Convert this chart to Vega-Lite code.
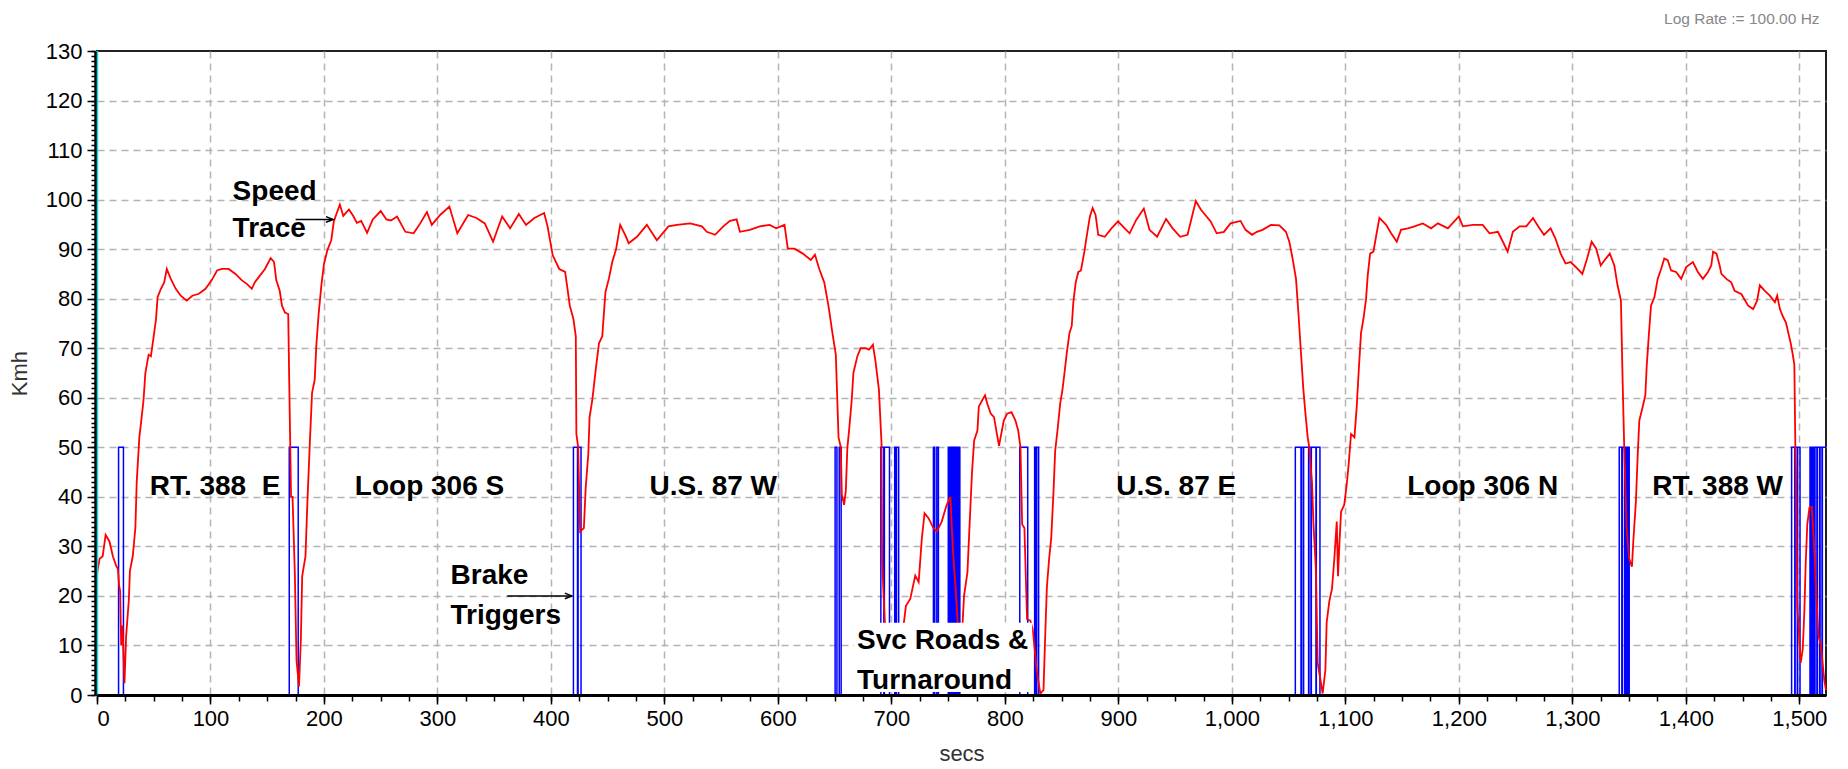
{
  "$schema": "https://vega.github.io/schema/vega-lite/v6.json",
  "width": 1729,
  "height": 644,
  "autosize": {"type": "none"},
  "padding": {"left": 97, "top": 51, "right": 22, "bottom": 74},
  "background": "white",
  "title": {"text": "Log Rate := 100.00 Hz", "anchor": "end", "color": "#888888", "fontSize": 15.5, "fontWeight": "normal", "font": "Liberation Sans", "offset": 13, "dx": -10},
  "datasets": {
    "speed": [
      {"t":0,"kmh":24.5},{"t":2.3,"kmh":27.5},{"t":5,"kmh":28},{"t":7.6,"kmh":32.3},{"t":11,"kmh":31},{"t":14,"kmh":28},{"t":17,"kmh":26},{"t":18.4,"kmh":25.5},{"t":19.5,"kmh":22},{"t":20.4,"kmh":21},{"t":21.3,"kmh":10},{"t":22.5,"kmh":14},{"t":24.2,"kmh":2.4},{"t":25.7,"kmh":12},{"t":28,"kmh":19},{"t":29,"kmh":25},{"t":31.5,"kmh":28},{"t":33.8,"kmh":33.7},{"t":35,"kmh":43},{"t":37.3,"kmh":52},{"t":38.8,"kmh":55},{"t":41,"kmh":59.5},{"t":42.6,"kmh":65},{"t":45.5,"kmh":68.7},{"t":47.5,"kmh":68.4},{"t":49.6,"kmh":71.8},{"t":52,"kmh":75.9},{"t":53.4,"kmh":80.3},{"t":56.3,"kmh":82},{"t":59.2,"kmh":83.3},{"t":61.5,"kmh":86},{"t":65,"kmh":84},{"t":69.4,"kmh":82},{"t":73.8,"kmh":80.6},{"t":79,"kmh":79.6},{"t":84,"kmh":80.6},{"t":89.8,"kmh":81},{"t":95.6,"kmh":82},{"t":101,"kmh":83.7},{"t":105.8,"kmh":85.7},{"t":110,"kmh":86},{"t":116,"kmh":86},{"t":122,"kmh":85},{"t":127.7,"kmh":83.7},{"t":132,"kmh":83},{"t":136.4,"kmh":82},{"t":139,"kmh":83.3},{"t":143.7,"kmh":84.7},{"t":148,"kmh":86},{"t":153,"kmh":88.2},{"t":156,"kmh":87.4},{"t":158,"kmh":83.7},{"t":161,"kmh":81.6},{"t":163,"kmh":78.6},{"t":165.6,"kmh":77.2},{"t":168.5,"kmh":76.9},{"t":169.4,"kmh":63},{"t":171,"kmh":40},{"t":172.3,"kmh":40},{"t":174.3,"kmh":24.8},{"t":175.8,"kmh":7},{"t":178,"kmh":1.7},{"t":179.6,"kmh":11},{"t":180.8,"kmh":24},{"t":183.7,"kmh":28},{"t":185.4,"kmh":39},{"t":187.5,"kmh":50.7},{"t":189.5,"kmh":61},{"t":191.8,"kmh":63.6},{"t":193.3,"kmh":70.7},{"t":195.3,"kmh":76.9},{"t":197.7,"kmh":82.7},{"t":200,"kmh":87},{"t":203,"kmh":89.8},{"t":206.4,"kmh":91.8},{"t":208.7,"kmh":95.6},{"t":210.8,"kmh":97},{"t":214,"kmh":99},{"t":217,"kmh":96.7},{"t":222,"kmh":98},{"t":225.8,"kmh":96.7},{"t":229,"kmh":95.3},{"t":232.8,"kmh":95.7},{"t":238,"kmh":93.3},{"t":243,"kmh":96},{"t":250,"kmh":97.7},{"t":255,"kmh":96},{"t":259,"kmh":95.8},{"t":264.4,"kmh":96.6},{"t":271.7,"kmh":93.5},{"t":279,"kmh":93.2},{"t":284.8,"kmh":95.2},{"t":290.7,"kmh":97.5},{"t":295,"kmh":94.9},{"t":302.3,"kmh":96.9},{"t":310.5,"kmh":98.6},{"t":317.5,"kmh":93.2},{"t":327,"kmh":96.9},{"t":334.4,"kmh":96.3},{"t":341.7,"kmh":95.2},{"t":349,"kmh":91.5},{"t":357,"kmh":96.6},{"t":364,"kmh":94.2},{"t":371.7,"kmh":97.1},{"t":378,"kmh":94.9},{"t":385.4,"kmh":96.3},{"t":394,"kmh":97.3},{"t":397,"kmh":94.6},{"t":401.5,"kmh":88.8},{"t":407.3,"kmh":86},{"t":412.5,"kmh":85.4},{"t":416.6,"kmh":78.6},{"t":419.8,"kmh":75.9},{"t":421.9,"kmh":72.4},{"t":422.4,"kmh":52.7},{"t":424,"kmh":50},{"t":425.7,"kmh":33},{"t":429,"kmh":33.7},{"t":430.6,"kmh":41.8},{"t":432.9,"kmh":48.6},{"t":434,"kmh":56},{"t":436.4,"kmh":59.5},{"t":439.4,"kmh":65.6},{"t":442.3,"kmh":71},{"t":445.2,"kmh":72.4},{"t":448,"kmh":81.3},{"t":451,"kmh":84},{"t":454,"kmh":87.4},{"t":457.4,"kmh":90},{"t":461,"kmh":94.9},{"t":465.6,"kmh":92.8},{"t":468.5,"kmh":91.2},{"t":475.8,"kmh":92.5},{"t":484.5,"kmh":94.9},{"t":493.3,"kmh":91.8},{"t":503.5,"kmh":94.6},{"t":511,"kmh":94.9},{"t":522.7,"kmh":95.2},{"t":533,"kmh":94.6},{"t":537.3,"kmh":93.5},{"t":544.6,"kmh":92.9},{"t":551.9,"kmh":94.6},{"t":557.7,"kmh":95.7},{"t":563.6,"kmh":96},{"t":566.5,"kmh":93.5},{"t":575.2,"kmh":93.9},{"t":584,"kmh":94.6},{"t":592.7,"kmh":94.9},{"t":598.5,"kmh":94.2},{"t":605.8,"kmh":94.9},{"t":608.7,"kmh":90.1},{"t":614.6,"kmh":90.1},{"t":621.9,"kmh":89.1},{"t":629,"kmh":87.8},{"t":632.6,"kmh":88.9},{"t":636.4,"kmh":86},{"t":640.8,"kmh":83.3},{"t":644.5,"kmh":78.6},{"t":648,"kmh":73.1},{"t":651,"kmh":68.7},{"t":653.4,"kmh":52},{"t":655.4,"kmh":50},{"t":656.3,"kmh":40.5},{"t":658.3,"kmh":38.4},{"t":659.8,"kmh":41.2},{"t":661.2,"kmh":50},{"t":662.7,"kmh":53.4},{"t":665,"kmh":59.5},{"t":666.5,"kmh":65},{"t":670,"kmh":68.4},{"t":672.9,"kmh":70},{"t":677.3,"kmh":70},{"t":680.2,"kmh":69.7},{"t":683.7,"kmh":70.7},{"t":686,"kmh":67.3},{"t":689,"kmh":61.6},{"t":691.3,"kmh":50.7},{"t":691.8,"kmh":26.9},{"t":694.2,"kmh":14.6},{"t":697,"kmh":8},{"t":703,"kmh":5},{"t":708,"kmh":9},{"t":712.8,"kmh":18},{"t":716.6,"kmh":19.4},{"t":721,"kmh":24.1},{"t":724,"kmh":22.8},{"t":726.8,"kmh":31.6},{"t":729.2,"kmh":36.7},{"t":732.7,"kmh":35.7},{"t":737,"kmh":33.7},{"t":740,"kmh":33},{"t":744.3,"kmh":35},{"t":748.7,"kmh":38.4},{"t":752,"kmh":40},{"t":754,"kmh":30},{"t":757,"kmh":20},{"t":759,"kmh":12},{"t":761,"kmh":13},{"t":762.7,"kmh":14.6},{"t":764,"kmh":20},{"t":767,"kmh":24.8},{"t":769,"kmh":35},{"t":771,"kmh":44.9},{"t":772.9,"kmh":51.4},{"t":775.8,"kmh":53.4},{"t":777,"kmh":58.2},{"t":780,"kmh":59.5},{"t":782.5,"kmh":60.5},{"t":784.5,"kmh":58.8},{"t":787.5,"kmh":56.8},{"t":790.4,"kmh":56.1},{"t":792.4,"kmh":53.4},{"t":794.8,"kmh":50.3},{"t":796.2,"kmh":52},{"t":799,"kmh":55.4},{"t":802,"kmh":56.8},{"t":805.8,"kmh":57.1},{"t":809.3,"kmh":55.4},{"t":811.7,"kmh":53.4},{"t":813.7,"kmh":50},{"t":815.2,"kmh":34.4},{"t":817.2,"kmh":33.7},{"t":819.5,"kmh":15.3},{"t":822.4,"kmh":15},{"t":824.5,"kmh":13.3},{"t":828,"kmh":5},{"t":831.2,"kmh":0.3},{"t":834,"kmh":1},{"t":835.6,"kmh":12.6},{"t":837,"kmh":21.8},{"t":839,"kmh":27.6},{"t":840.8,"kmh":31.6},{"t":842.9,"kmh":41.5},{"t":844.3,"kmh":49.3},{"t":846.6,"kmh":54},{"t":848.7,"kmh":58.8},{"t":850.7,"kmh":61.6},{"t":852.5,"kmh":65},{"t":854.5,"kmh":69},{"t":856.9,"kmh":73.1},{"t":858.9,"kmh":74.5},{"t":860.3,"kmh":79.3},{"t":862.4,"kmh":83.3},{"t":864.7,"kmh":85.4},{"t":867,"kmh":85.7},{"t":870,"kmh":89.5},{"t":872,"kmh":92.5},{"t":874.9,"kmh":96.6},{"t":877.3,"kmh":98.3},{"t":879.9,"kmh":96.9},{"t":882.2,"kmh":92.9},{"t":888,"kmh":92.5},{"t":893.9,"kmh":94.2},{"t":899.7,"kmh":95.6},{"t":905.5,"kmh":94.2},{"t":909.9,"kmh":93.2},{"t":915.7,"kmh":95.9},{"t":922.4,"kmh":98.2},{"t":927.4,"kmh":93.9},{"t":934.1,"kmh":92.5},{"t":942,"kmh":96.1},{"t":947.8,"kmh":94.2},{"t":954.5,"kmh":92.5},{"t":960.9,"kmh":92.9},{"t":963.8,"kmh":95.6},{"t":968.2,"kmh":99.7},{"t":972.6,"kmh":98},{"t":981.3,"kmh":95.6},{"t":986.6,"kmh":93.2},{"t":993,"kmh":93.5},{"t":998.8,"kmh":95.2},{"t":1007.6,"kmh":95.7},{"t":1012,"kmh":93.9},{"t":1017.8,"kmh":92.9},{"t":1022,"kmh":93.5},{"t":1027,"kmh":93.9},{"t":1034.4,"kmh":94.9},{"t":1041.8,"kmh":94.8},{"t":1047.6,"kmh":93.5},{"t":1050.6,"kmh":91.5},{"t":1053.5,"kmh":88.1},{"t":1056.5,"kmh":84},{"t":1058.8,"kmh":76.5},{"t":1060.9,"kmh":69},{"t":1062.9,"kmh":61.9},{"t":1064.7,"kmh":57.1},{"t":1066.8,"kmh":52},{"t":1068.2,"kmh":50},{"t":1070.6,"kmh":42.9},{"t":1071.8,"kmh":35},{"t":1074,"kmh":25.5},{"t":1075.6,"kmh":6.5},{"t":1080,"kmh":0.3},{"t":1082.4,"kmh":5.1},{"t":1083.5,"kmh":14.6},{"t":1085.9,"kmh":19},{"t":1088.2,"kmh":21.4},{"t":1090.3,"kmh":27.6},{"t":1092.4,"kmh":35},{"t":1093.5,"kmh":24},{"t":1094.7,"kmh":30.3},{"t":1096.2,"kmh":37},{"t":1099,"kmh":38.4},{"t":1101.2,"kmh":42.5},{"t":1102.9,"kmh":46.6},{"t":1105,"kmh":52.7},{"t":1108,"kmh":52},{"t":1110,"kmh":58.2},{"t":1111.8,"kmh":65.6},{"t":1113.8,"kmh":73.1},{"t":1115.9,"kmh":75.9},{"t":1118.2,"kmh":79.9},{"t":1119.7,"kmh":84.7},{"t":1121.8,"kmh":89.1},{"t":1124.7,"kmh":89.5},{"t":1127,"kmh":92.5},{"t":1130,"kmh":96.3},{"t":1133,"kmh":95.6},{"t":1135.9,"kmh":94.9},{"t":1140.3,"kmh":93.2},{"t":1145.3,"kmh":91.5},{"t":1149,"kmh":93.9},{"t":1155,"kmh":94.2},{"t":1160.9,"kmh":94.6},{"t":1168.2,"kmh":95.2},{"t":1175.6,"kmh":94.2},{"t":1181.5,"kmh":95.2},{"t":1190.3,"kmh":94.2},{"t":1200,"kmh":96.6},{"t":1203.5,"kmh":94.6},{"t":1212.4,"kmh":94.9},{"t":1221,"kmh":94.9},{"t":1227,"kmh":93.2},{"t":1234.4,"kmh":93.5},{"t":1238.8,"kmh":91.5},{"t":1243,"kmh":89.5},{"t":1247.6,"kmh":93.5},{"t":1253.5,"kmh":94.6},{"t":1259.4,"kmh":94.6},{"t":1265.3,"kmh":96.3},{"t":1271,"kmh":94.2},{"t":1275,"kmh":92.9},{"t":1280.8,"kmh":94.2},{"t":1285,"kmh":92.2},{"t":1289.7,"kmh":89.1},{"t":1294,"kmh":87.1},{"t":1298.5,"kmh":87.4},{"t":1303,"kmh":86.4},{"t":1308.8,"kmh":85},{"t":1313,"kmh":88.1},{"t":1317,"kmh":91.5},{"t":1321,"kmh":90.1},{"t":1325,"kmh":86.7},{"t":1329.5,"kmh":88.1},{"t":1333,"kmh":89.1},{"t":1337,"kmh":86.7},{"t":1339.8,"kmh":82.7},{"t":1342.8,"kmh":79.6},{"t":1344.2,"kmh":64.3},{"t":1345.7,"kmh":50},{"t":1347.8,"kmh":33.7},{"t":1350,"kmh":27.6},{"t":1352.5,"kmh":25.9},{"t":1353.7,"kmh":31},{"t":1356,"kmh":39.1},{"t":1357.5,"kmh":48},{"t":1359,"kmh":55.4},{"t":1362,"kmh":58.2},{"t":1364.3,"kmh":60.5},{"t":1365.5,"kmh":66.3},{"t":1367.3,"kmh":72.4},{"t":1369.3,"kmh":78.6},{"t":1372.3,"kmh":80.3},{"t":1375.2,"kmh":84},{"t":1378.2,"kmh":86},{"t":1381,"kmh":88.1},{"t":1384,"kmh":87.8},{"t":1387,"kmh":85.7},{"t":1391.4,"kmh":85.4},{"t":1395.9,"kmh":84},{"t":1400.3,"kmh":86.4},{"t":1406.2,"kmh":87.4},{"t":1410.6,"kmh":85.4},{"t":1415,"kmh":84},{"t":1419.5,"kmh":85.4},{"t":1422.4,"kmh":86.7},{"t":1424,"kmh":89.5},{"t":1427,"kmh":89.1},{"t":1429.8,"kmh":86.7},{"t":1431.3,"kmh":85},{"t":1435.7,"kmh":84},{"t":1440,"kmh":83.3},{"t":1443,"kmh":81.6},{"t":1449,"kmh":80.9},{"t":1454.9,"kmh":78.6},{"t":1459.3,"kmh":77.9},{"t":1462.8,"kmh":79.6},{"t":1465.2,"kmh":82.7},{"t":1469.6,"kmh":81.6},{"t":1474,"kmh":80.6},{"t":1478.5,"kmh":79.3},{"t":1480.5,"kmh":80.6},{"t":1482.9,"kmh":77.9},{"t":1485.3,"kmh":76.5},{"t":1488.2,"kmh":75.2},{"t":1490.3,"kmh":73.1},{"t":1492.3,"kmh":71.1},{"t":1494,"kmh":69},{"t":1495.6,"kmh":66.7},{"t":1496.5,"kmh":50},{"t":1497,"kmh":45.2},{"t":1498.2,"kmh":18},{"t":1501.2,"kmh":6.5},{"t":1503,"kmh":9.2},{"t":1504.4,"kmh":16.7},{"t":1505.6,"kmh":26.5},{"t":1507,"kmh":34.4},{"t":1508.9,"kmh":37.8},{"t":1511,"kmh":38},{"t":1513,"kmh":30},{"t":1515,"kmh":20},{"t":1516.8,"kmh":12},{"t":1519,"kmh":10},{"t":1522,"kmh":3},{"t":1523.5,"kmh":1}
    ],
    "brake": [
      {"t":0,"v":0},{"t":19,"v":50},{"t":23.3,"v":0},{"t":169.4,"v":50},{"t":177.3,"v":0},{"t":419.8,"v":50},{"t":423.4,"v":0},{"t":423.9,"v":50},{"t":426.5,"v":0},{"t":650.4,"v":50},{"t":652,"v":0},{"t":654,"v":50},{"t":655.7,"v":0},{"t":690.7,"v":50},{"t":693.3,"v":0},{"t":693.8,"v":50},{"t":698.3,"v":0},{"t":702.9,"v":50},{"t":704,"v":0},{"t":704.5,"v":50},{"t":706.4,"v":0},{"t":737,"v":50},{"t":738.2,"v":0},{"t":740,"v":50},{"t":741.4,"v":0},{"t":750.1,"v":50},{"t":751,"v":0},{"t":751.5,"v":50},{"t":752.5,"v":0},{"t":753,"v":50},{"t":754,"v":0},{"t":754.5,"v":50},{"t":755.5,"v":0},{"t":756,"v":50},{"t":757,"v":0},{"t":757.5,"v":50},{"t":758.5,"v":0},{"t":759.5,"v":50},{"t":760.3,"v":0},{"t":813.1,"v":50},{"t":820.1,"v":0},{"t":826.2,"v":50},{"t":827.5,"v":0},{"t":828,"v":50},{"t":829.7,"v":0},{"t":1055.9,"v":50},{"t":1060.9,"v":0},{"t":1061.2,"v":50},{"t":1062.9,"v":0},{"t":1063.2,"v":50},{"t":1067.6,"v":0},{"t":1067.9,"v":50},{"t":1069.7,"v":0},{"t":1070,"v":50},{"t":1074.1,"v":0},{"t":1074.4,"v":50},{"t":1077.6,"v":0},{"t":1341.3,"v":50},{"t":1343.6,"v":0},{"t":1344,"v":50},{"t":1346,"v":0},{"t":1346.3,"v":50},{"t":1347.5,"v":0},{"t":1347.8,"v":50},{"t":1349,"v":0},{"t":1349.3,"v":50},{"t":1350.1,"v":0},{"t":1493.2,"v":50},{"t":1496,"v":0},{"t":1496.3,"v":50},{"t":1498.2,"v":0},{"t":1498.5,"v":50},{"t":1500.6,"v":0},{"t":1509.4,"v":50},{"t":1510.5,"v":0},{"t":1510.8,"v":50},{"t":1512,"v":0},{"t":1512.3,"v":50},{"t":1513.5,"v":0},{"t":1513.8,"v":50},{"t":1515.5,"v":0},{"t":1516,"v":50},{"t":1518,"v":0},{"t":1518.3,"v":50},{"t":1520,"v":0},{"t":1520.3,"v":50},{"t":1523.5,"v":50}
    ],
    "routes": [
      {"t":104,"y":42,"label":"RT. 388\u00a0\u00a0E"},
      {"t":293,"y":42,"label":"Loop 306 S"},
      {"t":543,"y":42,"label":"U.S. 87 W"},
      {"t":951,"y":42,"label":"U.S. 87 E"},
      {"t":1221,"y":42,"label":"Loop 306 N"},
      {"t":1428,"y":42,"label":"RT. 388 W"}
    ],
    "notes": [
      {"t":119.5,"y":101.5,"label":"Speed"},
      {"t":119.5,"y":94,"label":"Trace"},
      {"t":311.5,"y":24,"label":"Brake"},
      {"t":311.5,"y":15.9,"label":"Triggers"},
      {"t":669.7,"y":10.8,"label":"Svc Roads &"},
      {"t":669.7,"y":2.9,"label":"Turnaround"}
    ],
    "arrows": [
      {"t":175,"t2":208,"y":96},
      {"t":361.5,"t2":418.4,"y":20}
    ],
    "mask": [
      {"t":667,"t2":824,"y":0.6,"y2":14.6}
    ],
    "marker": [
      {"t":0}
    ]
  },
  "resolve": {"axis": {"x": "independent", "y": "independent"}},
  "layer": [
    {
      "data": {"name": "brake"},
      "mark": {"type": "line", "interpolate": "step-after", "color": "#0000FF", "strokeWidth": 1.5},
      "encoding": {
        "x": {"field": "t", "type": "quantitative", "scale": {"domain": [0, 1523.5], "nice": false, "zero": false},
          "axis": {"orient": "bottom", "values": [100,200,300,400,500,600,700,800,900,1000,1100,1200,1300,1400,1500], "grid": true, "gridColor": "#b4b4b4", "gridDash": [7,5], "gridWidth": 1.5, "domain": false, "ticks": false, "labels": false, "title": null, "zindex": 0}},
        "y": {"field": "v", "type": "quantitative", "scale": {"domain": [0, 130], "nice": false},
          "axis": {"orient": "left", "values": [10,20,30,40,50,60,70,80,90,100,110,120], "grid": true, "gridColor": "#b4b4b4", "gridDash": [7,5], "gridWidth": 1.5, "domain": false, "ticks": false, "labels": false, "title": null, "zindex": 0}}
      }
    },
    {
      "data": {"name": "speed"},
      "mark": {"type": "line", "color": "#FF0000", "strokeWidth": 1.8},
      "encoding": {
        "x": {"field": "t", "type": "quantitative", "scale": {"domain": [0, 1523.5], "nice": false, "zero": false},
          "axis": {"orient": "bottom", "values": [0,100,200,300,400,500,600,700,800,900,1000,1100,1200,1300,1400,1500], "format": ",d", "grid": false, "domainColor": "#000000", "domainWidth": 3, "tickColor": "#000000", "tickSize": 9, "tickWidth": 1.5, "labelFont": "Liberation Sans", "labelFontSize": 22, "labelColor": "#000000", "labelPadding": 4, "title": "secs", "titleFont": "Liberation Sans", "titleFontSize": 22, "titleFontWeight": "normal", "titleColor": "#333333", "titlePadding": 14, "zindex": 1}},
        "y": {"field": "kmh", "type": "quantitative", "scale": {"domain": [0, 130], "nice": false},
          "axis": {"orient": "left", "values": [0,10,20,30,40,50,60,70,80,90,100,110,120,130], "grid": false, "offset": 2, "domainColor": "#000000", "domainWidth": 2.5, "tickColor": "#000000", "tickSize": 8, "tickWidth": 1.5, "labelFont": "Liberation Sans", "labelFontSize": 22, "labelColor": "#000000", "labelPadding": 5, "title": "Kmh", "titleFont": "Liberation Sans", "titleFontSize": 22, "titleFontWeight": "normal", "titleColor": "#333333", "titlePadding": 14, "zindex": 1}}
      }
    },
    {
      "data": {"name": "marker"},
      "mark": {"type": "rule", "color": "#00E0F0", "strokeWidth": 2.5},
      "encoding": {
        "x": {"field": "t", "type": "quantitative", "scale": {"domain": [0, 1523.5], "nice": false, "zero": false},
          "axis": {"orient": "bottom", "values": [0,25,50,75,100,125,150,175,200,225,250,275,300,325,350,375,400,425,450,475,500,525,550,575,600,625,650,675,700,725,750,775,800,825,850,875,900,925,950,975,1000,1025,1050,1075,1100,1125,1150,1175,1200,1225,1250,1275,1300,1325,1350,1375,1400,1425,1450,1475,1500], "grid": false, "domain": false, "labels": false, "tickColor": "#000000", "tickSize": 6, "tickWidth": 1.5, "title": null, "zindex": 1}}
      }
    },
    {
      "data": {"name": "mask"},
      "mark": {"type": "rect", "color": "#FFFFFF"},
      "encoding": {
        "x": {"field": "t", "type": "quantitative", "axis": null},
        "x2": {"field": "t2"},
        "y": {"field": "y", "type": "quantitative",
          "axis": {"orient": "left", "offset": 2, "values": [0,1,2,3,4,5,6,7,8,9,10,11,12,13,14,15,16,17,18,19,20,21,22,23,24,25,26,27,28,29,30,31,32,33,34,35,36,37,38,39,40,41,42,43,44,45,46,47,48,49,50,51,52,53,54,55,56,57,58,59,60,61,62,63,64,65,66,67,68,69,70,71,72,73,74,75,76,77,78,79,80,81,82,83,84,85,86,87,88,89,90,91,92,93,94,95,96,97,98,99,100,101,102,103,104,105,106,107,108,109,110,111,112,113,114,115,116,117,118,119,120,121,122,123,124,125,126,127,128,129,130], "grid": false, "domain": false, "labels": false, "tickColor": "#000000", "tickSize": 4, "tickWidth": 1.5, "title": null, "zindex": 1}},
        "y2": {"field": "y2"}
      }
    },
    {
      "data": {"name": "routes"},
      "mark": {"type": "text", "font": "Liberation Sans", "fontSize": 28, "fontWeight": "bold", "align": "center", "baseline": "middle", "color": "#000000"},
      "encoding": {
        "x": {"field": "t", "type": "quantitative", "axis": null},
        "y": {"field": "y", "type": "quantitative", "axis": null},
        "text": {"field": "label"}
      }
    },
    {
      "data": {"name": "notes"},
      "mark": {"type": "text", "font": "Liberation Sans", "fontSize": 28, "fontWeight": "bold", "align": "left", "baseline": "middle", "color": "#000000"},
      "encoding": {
        "x": {"field": "t", "type": "quantitative", "axis": null},
        "y": {"field": "y", "type": "quantitative", "axis": null},
        "text": {"field": "label"}
      }
    },
    {
      "data": {"name": "arrows"},
      "mark": {"type": "rule", "color": "#000000", "strokeWidth": 1.5},
      "encoding": {
        "x": {"field": "t", "type": "quantitative", "axis": null},
        "x2": {"field": "t2"},
        "y": {"field": "y", "type": "quantitative", "axis": null}
      }
    },
    {
      "data": {"name": "arrows"},
      "mark": {"type": "point", "shape": "M -1 -0.4 L 0 0 L -1 0.4", "filled": false, "stroke": "#000000", "strokeWidth": 1.5, "size": 196, "opacity": 1},
      "encoding": {
        "x": {"field": "t2", "type": "quantitative", "axis": null},
        "y": {"field": "y", "type": "quantitative", "axis": null}
      }
    }
  ],
  "config": {
    "view": {"stroke": "#222222", "strokeWidth": 2},
    "axis": {"labelFont": "Liberation Sans", "titleFont": "Liberation Sans"}
  }
}
